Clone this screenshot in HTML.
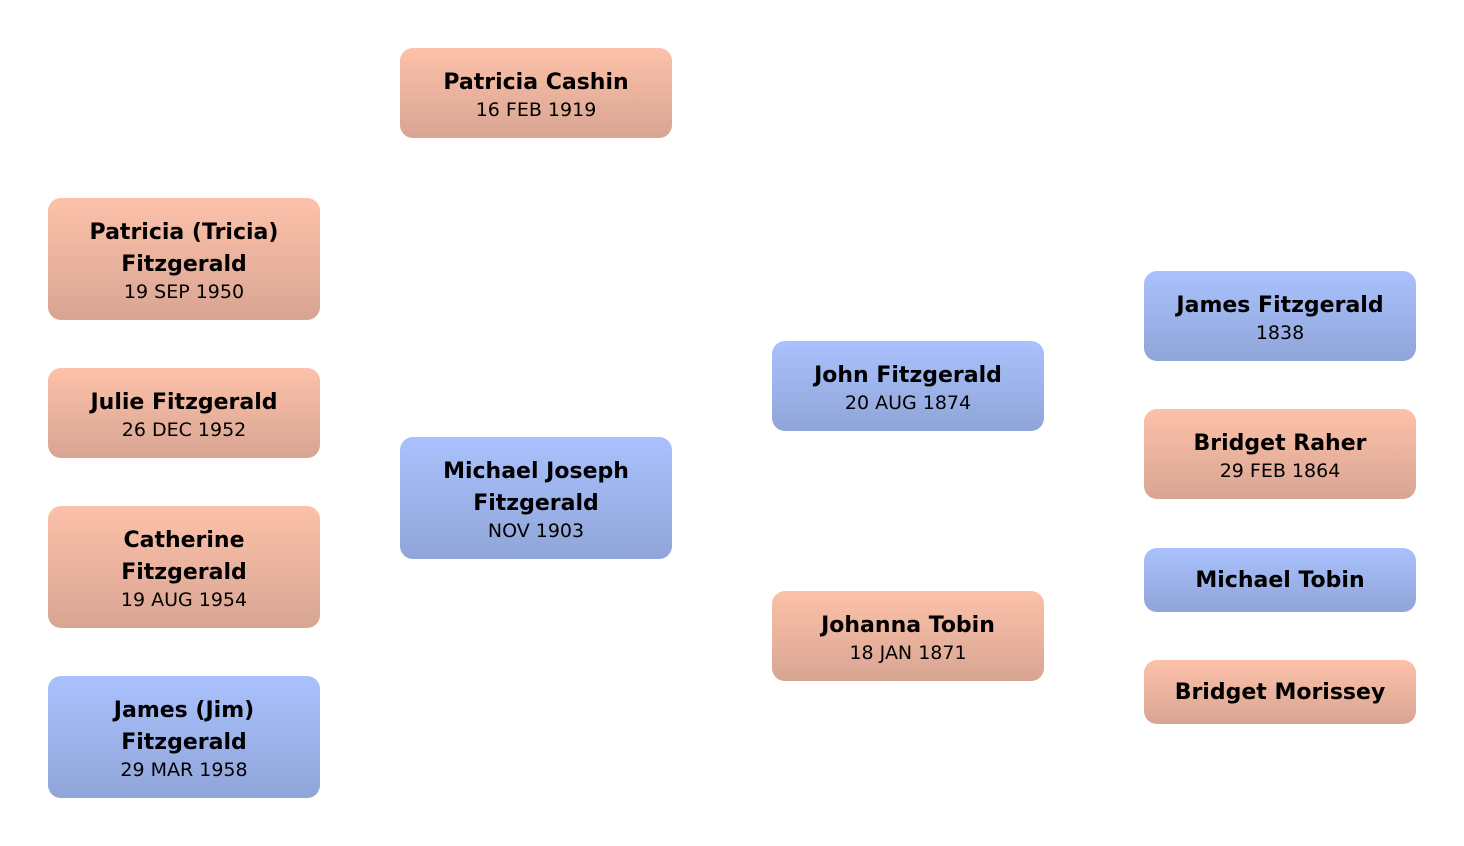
<!DOCTYPE html>
<html><head><style>
body{margin:0;width:1464px;height:846px;background:#fff;position:relative;overflow:hidden;font-family:"DejaVu Sans","Liberation Sans",sans-serif;}
.b{position:absolute;width:272px;border-radius:13px;display:flex;flex-direction:column;justify-content:center;align-items:center;text-align:center;color:#000;box-sizing:border-box;padding-top:2px}
.p{background:linear-gradient(#fdc1a9,#d8a593)}
.m{background:linear-gradient(#a9c1fd,#90a5d8)}
.n{font-weight:bold;font-size:22px;line-height:32px}
.d{font-size:19px;line-height:22px}
</style></head><body>
<div class="b p" style="left:400px;top:48px;height:90px"><div class="n">Patricia Cashin</div><div class="d">16 FEB 1919</div></div>
<div class="b p" style="left:48px;top:198px;height:122px"><div class="n">Patricia (Tricia)<br>Fitzgerald</div><div class="d">19 SEP 1950</div></div>
<div class="b p" style="left:48px;top:368px;height:90px"><div class="n">Julie Fitzgerald</div><div class="d">26 DEC 1952</div></div>
<div class="b p" style="left:48px;top:506px;height:122px"><div class="n">Catherine<br>Fitzgerald</div><div class="d">19 AUG 1954</div></div>
<div class="b m" style="left:48px;top:676px;height:122px"><div class="n">James (Jim)<br>Fitzgerald</div><div class="d">29 MAR 1958</div></div>
<div class="b m" style="left:400px;top:437px;height:122px"><div class="n">Michael Joseph<br>Fitzgerald</div><div class="d">NOV 1903</div></div>
<div class="b m" style="left:772px;top:341px;height:90px"><div class="n">John Fitzgerald</div><div class="d">20 AUG 1874</div></div>
<div class="b p" style="left:772px;top:591px;height:90px"><div class="n">Johanna Tobin</div><div class="d">18 JAN 1871</div></div>
<div class="b m" style="left:1144px;top:271px;height:90px"><div class="n">James Fitzgerald</div><div class="d">1838</div></div>
<div class="b p" style="left:1144px;top:409px;height:90px"><div class="n">Bridget Raher</div><div class="d">29 FEB 1864</div></div>
<div class="b m" style="left:1144px;top:548px;height:64px"><div class="n">Michael Tobin</div></div>
<div class="b p" style="left:1144px;top:660px;height:64px"><div class="n">Bridget Morissey</div></div>
</body></html>
